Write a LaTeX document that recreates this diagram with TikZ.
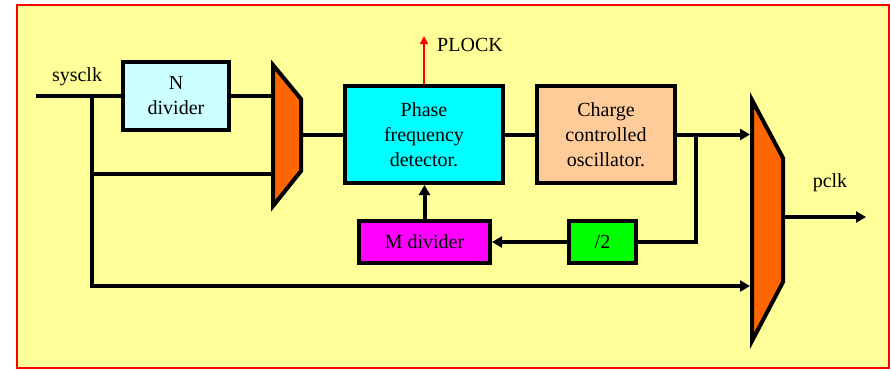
\documentclass[tikz,border=0pt]{standalone}
\usepackage{fontspec}
\setmainfont{Liberation Serif}
\usetikzlibrary{arrows.meta}
\definecolor{bgyellow}{HTML}{FFFF99}
\definecolor{ndivcyan}{HTML}{CCFFFF}
\definecolor{pfdcyan}{HTML}{00FFFF}
\definecolor{ccopeach}{HTML}{FFCC99}
\definecolor{mdivmagenta}{HTML}{FF00FF}
\definecolor{halfgreen}{HTML}{00FF00}
\definecolor{muxorange}{HTML}{FF6600}
\begin{document}
\begin{tikzpicture}[x=1pt, y=-1pt,
    block/.style={rectangle, draw, line width=4pt, align=center, inner sep=0pt, font=\fontsize{20}{25}\selectfont},
    wire/.style={line width=4pt},
    arrow/.style={wire, -{Triangle[length=10pt,width=11pt]}},
    mux/.style={draw, line width=4pt, fill=muxorange, line join=miter},
    lbl/.style={font=\fontsize{20}{24}\selectfont}
]
    \useasboundingbox (0,0) rectangle (891,370);
    \draw[red, line width=2.5pt, fill=bgyellow] (17,5) rectangle (889,368);

    \node[block, fill=ndivcyan, minimum width=106pt, minimum height=68pt] (ndiv) at (176,96) {N\\divider};
    \node[block, fill=pfdcyan, minimum width=158pt, minimum height=97pt] (pfd) at (424,134.5) {Phase\\frequency\\detector.};
    \node[block, fill=ccopeach, minimum width=138pt, minimum height=97pt] (cco) at (606,134.5) {Charge\\controlled\\oscillator.};
    \node[block, fill=mdivmagenta, minimum width=131pt, minimum height=42pt] (mdiv) at (424.5,242) {M divider};
    \node[block, fill=halfgreen, minimum width=67pt, minimum height=42pt] (half) at (602.5,242) {/2};

    \draw[mux] (273,65) coordinate (mux1nw) -- (301,99) -- (301,171) coordinate (mux1se) -- (273,206) -- cycle;
    \draw[mux] (752,100) coordinate (mux2nw) -- (783,158) -- (783,282) coordinate (mux2se) -- (752,341) -- cycle;

    \node[lbl] (sysclk) at (77,77) {sysclk};
    \node[lbl] (plock) at (470,45) {PLOCK};
    \node[lbl] (pclk) at (830,183) {pclk};

    \coordinate (sysin) at (36,96);
    \coordinate (tap) at (92,96);
    \coordinate (fb) at (696,134.5);
    \coordinate (plocktip) at (424,36);
    \coordinate (pclkout) at (866,217);

    \draw[wire] (sysin) -- (ndiv.west);
    \draw[wire] (ndiv.east) -- (ndiv.east -| mux1nw);
    \draw[wire] (tap) |- (271,174);
    \draw[arrow] (tap) |- (750,286);
    \draw[wire] (mux1se |- pfd.west) -- (pfd.west);
    \draw[wire] (pfd.east) -- (cco.west);
    \draw[arrow] (cco.east) -- (750,134.5);
    \draw[wire] (fb) |- (half.east);
    \draw[arrow] (half.west) -- (mdiv.east);
    \draw[arrow] (mdiv.north) -- (mdiv.north |- pfd.south);
    \draw[red, line width=1.5pt, -{Triangle[length=8pt,width=8pt]}] (pfd.north) -- (plocktip);
    \draw[arrow] (mux2se |- pclkout) -- (pclkout);
\end{tikzpicture}
\end{document}
